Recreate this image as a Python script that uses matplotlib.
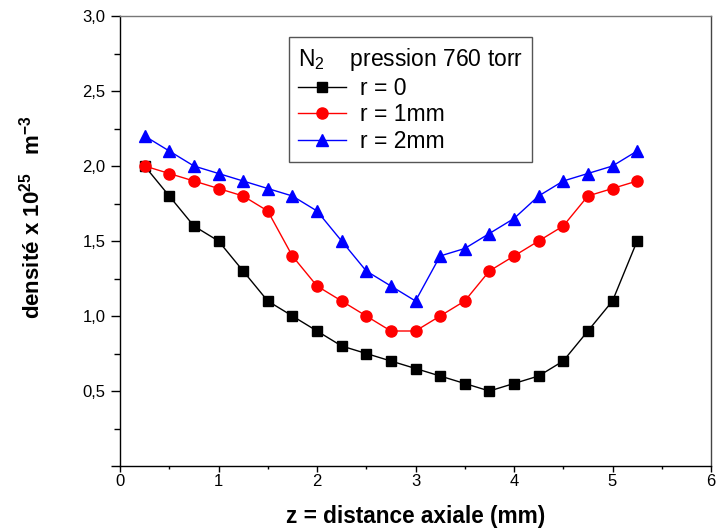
import matplotlib
matplotlib.use("Agg")
import matplotlib.pyplot as plt
from matplotlib.ticker import MultipleLocator, FuncFormatter

plt.rcParams['font.family'] = ['Liberation Sans', 'DejaVu Sans']
plt.rcParams['mathtext.fontset'] = 'custom'
plt.rcParams['mathtext.rm'] = 'Liberation Sans'
plt.rcParams['mathtext.bf'] = 'Liberation Sans:bold'
plt.rcParams['mathtext.it'] = 'Liberation Sans:italic'

z = [0.25, 0.5, 0.75, 1.0, 1.25, 1.5, 1.75, 2.0, 2.25, 2.5, 2.75, 3.0,
     3.25, 3.5, 3.75, 4.0, 4.25, 4.5, 4.75, 5.0, 5.25]
r0 = [2.0, 1.8, 1.6, 1.5, 1.3, 1.1, 1.0, 0.9, 0.8, 0.75, 0.7, 0.65,
      0.6, 0.55, 0.5, 0.55, 0.6, 0.7, 0.9, 1.1, 1.5]
r1 = [2.0, 1.95, 1.9, 1.85, 1.8, 1.7, 1.4, 1.2, 1.1, 1.0, 0.9, 0.9,
      1.0, 1.1, 1.3, 1.4, 1.5, 1.6, 1.8, 1.85, 1.9]
r2 = [2.2, 2.1, 2.0, 1.95, 1.9, 1.85, 1.8, 1.7, 1.5, 1.3, 1.2, 1.1,
      1.4, 1.45, 1.55, 1.65, 1.8, 1.9, 1.95, 2.0, 2.1]
labels = ["r = 0", "r = 1mm", "r = 2mm"]

fig = plt.figure(figsize=(7.19, 5.29), dpi=100)
ax = fig.add_axes([120/719, 63/529, 591/719, 450/529])

ax.plot(z, r0, color='black', lw=1, marker='s', ms=6.8, label=labels[0])
ax.plot(z, r1, color='red', lw=1, marker='o', ms=8, label=labels[1])
ax.plot(z, r2, color='blue', lw=1, marker='^', ms=9, label=labels[2])

ax.set_xlim(0, 6)
ax.set_ylim(0, 3.0)
ax.xaxis.set_major_locator(MultipleLocator(1))
ax.xaxis.set_minor_locator(MultipleLocator(0.5))
ax.yaxis.set_major_locator(MultipleLocator(0.5))
ax.yaxis.set_minor_locator(MultipleLocator(0.25))
ax.yaxis.set_major_formatter(FuncFormatter(
    lambda v, p: "" if abs(v) < 1e-9 else f"{v:.1f}".replace('.', ',')))
ax.tick_params(axis='y', which='major', direction='out', length=6.5, width=1,
               labelsize=12, pad=4)
ax.tick_params(axis='y', which='minor', direction='out', length=4, width=1)
ax.tick_params(axis='x', which='major', direction='out', length=4, width=1,
               labelsize=12, pad=1.5)
ax.tick_params(axis='x', which='minor', direction='out', length=2.5, width=1)
ax.tick_params(top=False, right=False, which='both')
for s in ax.spines.values():
    s.set_linewidth(1)
ax.spines['top'].set_color('#777777')
ax.spines['right'].set_color('#444444')

ax.set_xlabel("z = distance axiale (mm)", fontsize=16.3, fontweight='bold')
ax.xaxis.set_label_coords(0.5, -0.087)
ax.set_ylabel(r"densité x 10$^{\mathbf{25}}$   m$^{\mathbf{-3}}$", fontsize=16,
              fontweight='bold')
ax.yaxis.set_label_coords(-0.128, 0.553)

leg = ax.legend(loc='upper center', bbox_to_anchor=(0.492, 0.953), fancybox=False,
                edgecolor='#555555', framealpha=1, fontsize=16.5,
                title=r"N$_2$    pression 760 torr", title_fontsize=16.5,
                handlelength=2.1, borderpad=0.4, labelspacing=0.15, handletextpad=0.6,
                borderaxespad=0)
leg.get_frame().set_linewidth(1)
leg._legend_box.align = "left"

fig.savefig("out.png", dpi=100)
